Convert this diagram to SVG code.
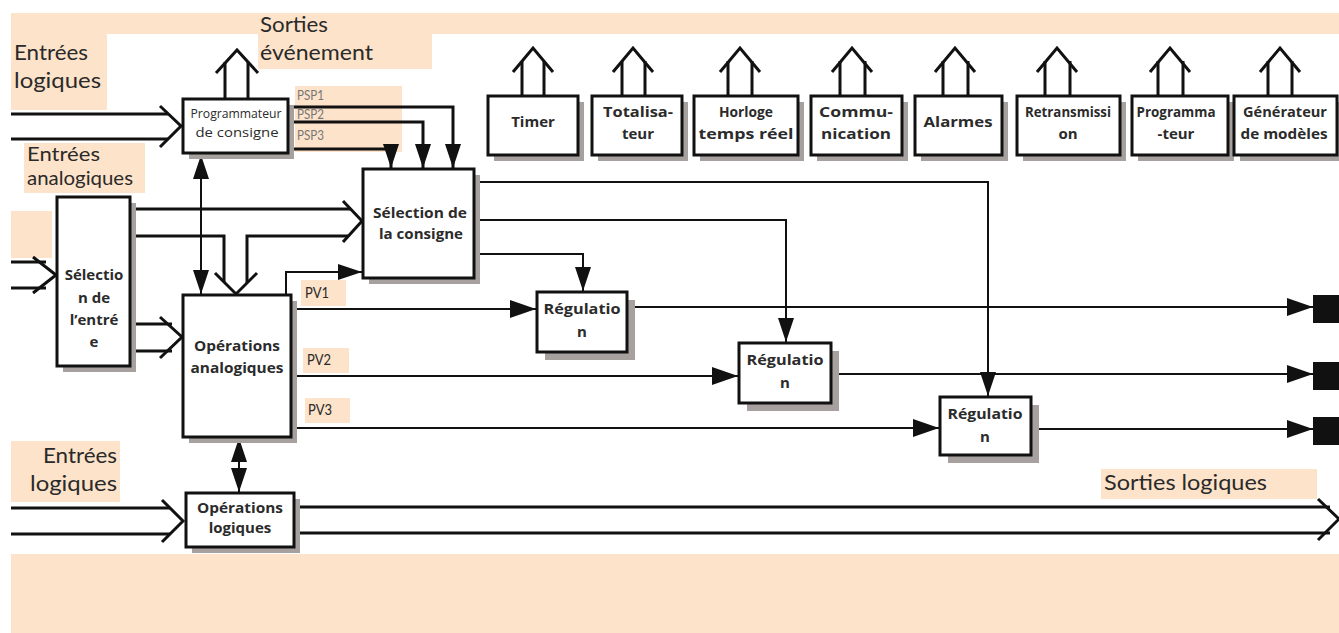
<svg xmlns="http://www.w3.org/2000/svg" width="1339" height="633" viewBox="0 0 1339 633">
<defs>
<style>
.lbl{fill:#fde3c9}
.pt{font-family:Lato,"Noto Sans","Liberation Sans",sans-serif;fill:#2a2a2a}
.psp{font-family:Lato,"Noto Sans","Liberation Sans",sans-serif;fill:#777;font-size:13px}
.bx{fill:#fff;stroke:#111;stroke-width:3}
.sh{fill:#a6a09e}
.bt{font-family:"Open Sans","Noto Sans","Liberation Sans",sans-serif;font-weight:700;fill:#2b2b2b;font-size:15px;text-anchor:middle}
.lt{font-family:"Open Sans","Noto Sans","Liberation Sans",sans-serif;fill:#2b2b2b;font-size:13px;text-anchor:middle}
.th{fill:none;stroke:#111;stroke-width:3}
.tn{fill:none;stroke:#111;stroke-width:2}
.ch{fill:none;stroke:#111;stroke-width:3;stroke-linejoin:miter}
</style>
<marker id="tri" viewBox="0 0 26 18" refX="26" refY="9" markerWidth="26" markerHeight="18" markerUnits="userSpaceOnUse" orient="auto-start-reverse">
<path d="M0,0 L26,9 L0,18 z" fill="#111"/>
</marker>
<marker id="tri2" viewBox="0 0 24 16" refX="24" refY="8" markerWidth="24" markerHeight="16" markerUnits="userSpaceOnUse" orient="auto-start-reverse">
<path d="M0,0 L24,8 L0,16 z" fill="#111"/>
</marker>
</defs>

<rect width="1339" height="633" fill="#fff"/>

<g id="labels">
<rect class="lbl" x="11" y="13" width="1328" height="21"/>
<rect class="lbl" x="11" y="13" width="96" height="97"/>
<rect class="lbl" x="258" y="13" width="174" height="56"/>
<rect class="lbl" x="24" y="143" width="121" height="50"/>
<rect class="lbl" x="11" y="211" width="41" height="47"/>
<rect class="lbl" x="295" y="86" width="107" height="66"/>
<rect class="lbl" x="301" y="280" width="45" height="26"/>
<rect class="lbl" x="303" y="348" width="46" height="25"/>
<rect class="lbl" x="305" y="398" width="45" height="25"/>
<rect class="lbl" x="11" y="441" width="109" height="61"/>
<rect class="lbl" x="1101" y="469" width="216" height="30"/>
<rect class="lbl" x="11" y="554" width="1328" height="79"/>

<text class="pt" x="14" y="60" font-size="22" textLength="74" lengthAdjust="spacingAndGlyphs">Entrées</text>
<text class="pt" x="14" y="88" font-size="22" textLength="87" lengthAdjust="spacingAndGlyphs">logiques</text>
<text class="pt" x="260" y="32" font-size="22" textLength="68" lengthAdjust="spacingAndGlyphs">Sorties</text>
<text class="pt" x="260" y="60" font-size="22" textLength="113" lengthAdjust="spacingAndGlyphs">événement</text>
<text class="pt" x="27" y="161" font-size="20" textLength="73" lengthAdjust="spacingAndGlyphs">Entrées</text>
<text class="pt" x="27" y="185" font-size="20" textLength="106" lengthAdjust="spacingAndGlyphs">analogiques</text>
<text class="psp" x="297" y="100" textLength="27" lengthAdjust="spacingAndGlyphs">PSP1</text>
<text class="psp" x="297" y="119" textLength="27" lengthAdjust="spacingAndGlyphs">PSP2</text>
<text class="psp" x="297" y="140" textLength="27" lengthAdjust="spacingAndGlyphs">PSP3</text>
<text class="pt" x="305" y="298" font-size="16" textLength="24" lengthAdjust="spacingAndGlyphs">PV1</text>
<text class="pt" x="307" y="365" font-size="16" textLength="24" lengthAdjust="spacingAndGlyphs">PV2</text>
<text class="pt" x="308" y="415" font-size="16" textLength="24" lengthAdjust="spacingAndGlyphs">PV3</text>
<text class="pt" x="117" y="463" font-size="21" text-anchor="end" textLength="74" lengthAdjust="spacingAndGlyphs">Entrées</text>
<text class="pt" x="117" y="491" font-size="21" text-anchor="end" textLength="87" lengthAdjust="spacingAndGlyphs">logiques</text>
<text class="pt" x="1104" y="490" font-size="21" textLength="163" lengthAdjust="spacingAndGlyphs">Sorties logiques</text>
</g>

<g id="connectors">
<path class="th" d="M225,99 V62 M248,99 V62"/>
<polyline class="ch" points="216,73 237,50 258,73"/>
<path class="th" d="M522,96 V61 M544,96 V61"/>
<polyline class="ch" points="513,72 533,48 553,72"/>
<path class="th" d="M622,96 V61 M645,96 V61"/>
<polyline class="ch" points="613,72 633,48 653,72"/>
<path class="th" d="M728,96 V61 M752,96 V61"/>
<polyline class="ch" points="720,72 740,48 760,72"/>
<path class="th" d="M840,96 V61 M865,96 V61"/>
<polyline class="ch" points="832,72 852,48 872,72"/>
<path class="th" d="M943,96 V61 M968,96 V61"/>
<polyline class="ch" points="935,72 955,48 975,72"/>
<path class="th" d="M1045,96 V61 M1070,96 V61"/>
<polyline class="ch" points="1037,72 1057,48 1077,72"/>
<path class="th" d="M1158,96 V61 M1183,96 V61"/>
<polyline class="ch" points="1150,72 1170,48 1190,72"/>
<path class="th" d="M1268,96 V61 M1292,96 V61"/>
<polyline class="ch" points="1260,72 1280,48 1300,72"/>

<path class="th" d="M11,114 H168 M11,139 H168"/>
<polyline class="ch" points="160,106 181,126 160,147"/>
<path class="th" d="M11,262 H46 M11,288 H46"/>
<polyline class="ch" points="33,257 56,275 33,293"/>
<path class="th" d="M130,324 H172 M130,351 H172"/>
<polyline class="ch" points="160,317 182,337 160,358"/>
<path class="th" d="M130,209 H351"/>
<path class="th" d="M130,236 H224 V282"/>
<path class="th" d="M247,283 V236 H348"/>
<polyline class="ch" points="343,201 362,221 343,242"/>
<polyline class="ch" points="215,273 236,294 257,273"/>
<line class="tn" x1="201" y1="155" x2="201" y2="294" marker-start="url(#tri2)" marker-end="url(#tri2)"/>
<polyline class="tn" points="286,295 286,272 362,272" marker-end="url(#tri2)"/>
<polyline class="th" points="288,107 453,107 453,168" marker-end="url(#tri2)"/>
<polyline class="th" points="288,122 423,122 423,168" marker-end="url(#tri2)"/>
<polyline class="th" points="288,149 391,149 391,168" marker-end="url(#tri2)"/>
<polyline class="tn" points="474,182 988,182 988,396" marker-end="url(#tri2)"/>
<polyline class="tn" points="474,220 786,220 786,342" marker-end="url(#tri2)"/>
<polyline class="tn" points="474,254 583,254 583,291" marker-end="url(#tri2)"/>
<line class="tn" x1="291" y1="309" x2="536" y2="309" marker-end="url(#tri)"/>
<line class="tn" x1="291" y1="376" x2="738" y2="376" marker-end="url(#tri)"/>
<line class="tn" x1="291" y1="428" x2="939" y2="428" marker-end="url(#tri)"/>
<line class="tn" x1="627" y1="307" x2="1313" y2="307" marker-end="url(#tri)"/>
<line class="tn" x1="831" y1="374" x2="1313" y2="374" marker-end="url(#tri)"/>
<line class="tn" x1="1031" y1="429" x2="1313" y2="429" marker-end="url(#tri)"/>
<rect x="1313" y="295" width="26" height="28" fill="#111"/>
<rect x="1313" y="362" width="26" height="28" fill="#111"/>
<rect x="1313" y="417" width="26" height="28" fill="#111"/>
<line class="tn" x1="239" y1="438" x2="239" y2="492" marker-start="url(#tri2)" marker-end="url(#tri2)"/>
<path class="th" d="M11,508 H170 M11,534 H170"/>
<polyline class="ch" points="162,500 183,521 162,542"/>
<path class="th" d="M294,507 H1330 M294,533 H1330"/>
<polyline class="ch" points="1318,499 1339,519 1318,540"/>
</g>

<g id="n-prog">
<rect class="sh" x="189" y="105" width="105" height="54"/>
<rect class="bx" x="183" y="99" width="105" height="54"/>
<text class="lt" x="236" y="118" textLength="91" lengthAdjust="spacingAndGlyphs">Programmateur</text>
<text class="lt" x="237" y="137" textLength="83" lengthAdjust="spacingAndGlyphs">de consigne</text>
</g>
<g id="n-selcons">
<rect class="sh" x="369" y="175" width="111" height="109"/>
<rect class="bx" x="363" y="169" width="111" height="109"/>
<text class="bt" x="420" y="218" textLength="94" lengthAdjust="spacingAndGlyphs">Sélection de</text>
<text class="bt" x="421" y="239" textLength="84" lengthAdjust="spacingAndGlyphs">la consigne</text>
</g>
<g id="n-selent">
<rect class="sh" x="63" y="203" width="73" height="169"/>
<rect class="bx" x="57" y="197" width="73" height="169"/>
<text class="bt" x="94" y="280">Sélectio</text>
<text class="bt" x="94" y="303">n de</text>
<text class="bt" x="94" y="325">l’entré</text>
<text class="bt" x="94" y="347">e</text>
</g>
<g id="n-opana">
<rect class="sh" x="189" y="301" width="108" height="142"/>
<rect class="bx" x="183" y="295" width="108" height="142"/>
<text class="bt" x="237" y="351" font-size="16" textLength="86" lengthAdjust="spacingAndGlyphs">Opérations</text>
<text class="bt" x="237" y="373" font-size="16" textLength="93" lengthAdjust="spacingAndGlyphs">analogiques</text>
</g>
<g id="n-reg1">
<rect class="sh" x="545" y="300" width="90" height="60"/>
<rect class="bx" x="537" y="292" width="90" height="60"/>
<text class="bt" x="582" y="314" textLength="77" lengthAdjust="spacingAndGlyphs">Régulatio</text>
<text class="bt" x="582" y="337">n</text>
</g>
<g id="n-reg2">
<rect class="sh" x="747" y="351" width="92" height="60"/>
<rect class="bx" x="739" y="343" width="92" height="60"/>
<text class="bt" x="785" y="365" textLength="77" lengthAdjust="spacingAndGlyphs">Régulatio</text>
<text class="bt" x="785" y="388">n</text>
</g>
<g id="n-reg3">
<rect class="sh" x="948" y="405" width="91" height="58"/>
<rect class="bx" x="940" y="397" width="91" height="58"/>
<text class="bt" x="985" y="419" textLength="75" lengthAdjust="spacingAndGlyphs">Régulatio</text>
<text class="bt" x="985" y="442">n</text>
</g>
<g id="n-oplog">
<rect class="sh" x="192" y="499" width="108" height="54"/>
<rect class="bx" x="186" y="493" width="108" height="54"/>
<text class="bt" x="240" y="513" font-size="14" textLength="86" lengthAdjust="spacingAndGlyphs">Opérations</text>
<text class="bt" x="240" y="533" font-size="14">logiques</text>
</g>
<g id="n-timer">
<rect class="sh" x="494" y="102" width="90" height="59"/>
<rect class="bx" x="488" y="96" width="90" height="59"/>
<text class="bt" x="533" y="127" font-size="16">Timer</text>
</g>
<g id="n-total">
<rect class="sh" x="598" y="102" width="90" height="59"/>
<rect class="bx" x="592" y="96" width="90" height="59"/>
<text class="bt" x="638" y="117" textLength="70" lengthAdjust="spacingAndGlyphs">Totalisa-</text>
<text class="bt" x="638" y="139">teur</text>
</g>
<g id="n-horloge">
<rect class="sh" x="700" y="102" width="104" height="59"/>
<rect class="bx" x="694" y="96" width="104" height="59"/>
<text class="bt" x="746" y="117" textLength="54" lengthAdjust="spacingAndGlyphs">Horloge</text>
<text class="bt" x="746" y="139" textLength="95" lengthAdjust="spacingAndGlyphs">temps réel</text>
</g>
<g id="n-comm">
<rect class="sh" x="817" y="102" width="91" height="59"/>
<rect class="bx" x="811" y="96" width="91" height="59"/>
<text class="bt" x="856" y="117" textLength="74" lengthAdjust="spacingAndGlyphs">Commu-</text>
<text class="bt" x="856" y="139" textLength="70" lengthAdjust="spacingAndGlyphs">nication</text>
</g>
<g id="n-alarmes">
<rect class="sh" x="921" y="102" width="87" height="59"/>
<rect class="bx" x="915" y="96" width="87" height="59"/>
<text class="bt" x="958" y="127" font-size="16" textLength="69" lengthAdjust="spacingAndGlyphs">Alarmes</text>
</g>
<g id="n-retrans">
<rect class="sh" x="1023" y="102" width="103" height="59"/>
<rect class="bx" x="1017" y="96" width="103" height="59"/>
<text class="bt" x="1068" y="117" font-size="14" textLength="86" lengthAdjust="spacingAndGlyphs">Retransmissi</text>
<text class="bt" x="1068" y="139" font-size="14">on</text>
</g>
<g id="n-progr">
<rect class="sh" x="1138" y="102" width="96" height="59"/>
<rect class="bx" x="1132" y="96" width="96" height="59"/>
<text class="bt" x="1176" y="117" font-size="14" textLength="79" lengthAdjust="spacingAndGlyphs">Programma</text>
<text class="bt" x="1176" y="139" font-size="14">-teur</text>
</g>
<g id="n-gen">
<rect class="sh" x="1240" y="102" width="103" height="59"/>
<rect class="bx" x="1234" y="96" width="103" height="59"/>
<text class="bt" x="1285" y="117" font-size="14" textLength="84" lengthAdjust="spacingAndGlyphs">Générateur</text>
<text class="bt" x="1284" y="139" font-size="14" textLength="87" lengthAdjust="spacingAndGlyphs">de modèles</text>
</g>
</svg>
